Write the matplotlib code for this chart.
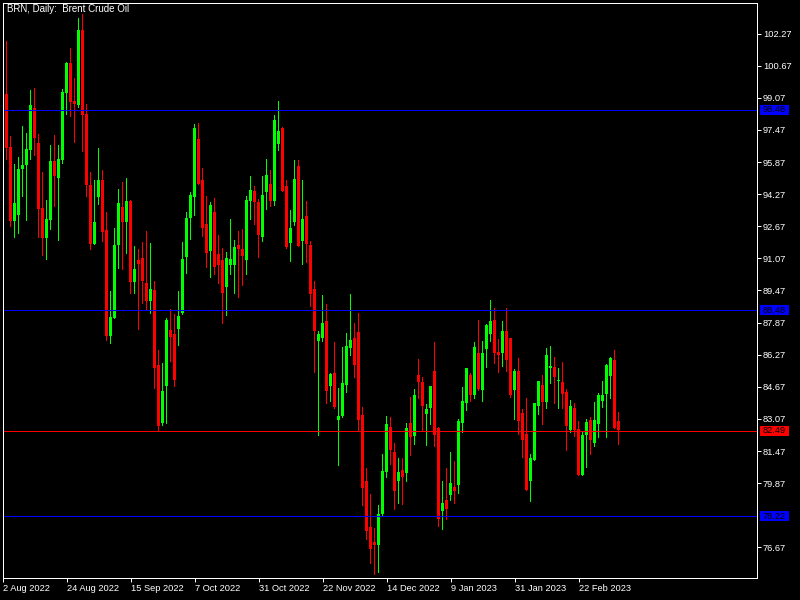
import matplotlib.pyplot as plt
import matplotlib.transforms as mtransforms
from matplotlib.patches import Rectangle
import numpy as np

# Brent daily candles, 2 Aug 2022 .. early Mar 2023
opens = [99.30, 99.26, 96.62, 92.95, 93.25, 95.53, 95.74, 96.49, 98.57, 96.82,
         93.58, 92.10, 93.00, 95.92, 95.09, 95.99, 99.33, 100.81, 98.92, 98.73,
         102.45, 98.27, 94.74, 91.80, 94.14, 94.98, 92.50, 87.22, 88.11, 91.75,
         93.63, 92.90, 93.93, 89.91, 90.99, 91.09, 89.84, 88.96, 89.49, 85.75,
         82.85, 84.72, 87.50, 87.30, 87.56, 88.33, 91.15, 93.10, 94.14, 97.02,
         94.98, 92.78, 91.45, 93.38, 91.29, 90.99, 89.66, 90.75, 90.75, 91.74,
         91.54, 91.00, 93.95, 94.43, 93.88, 92.15, 94.39, 94.78, 93.95, 96.79,
         97.57, 94.68, 91.85, 92.90, 95.67, 91.95, 93.18, 91.75, 89.54, 86.97,
         87.12, 87.95, 84.72, 85.36, 83.03, 83.23, 84.77, 86.62, 87.10, 87.40,
         83.26, 79.99, 77.69, 76.95, 76.80, 78.33, 80.44, 82.66, 81.42, 79.99,
         80.52, 80.39, 82.86, 82.23, 85.26, 84.91, 83.33, 83.63, 85.46, 82.63,
         78.49, 79.02, 79.27, 79.67, 79.77, 82.86, 83.86, 85.26, 84.26, 86.35,
         84.51, 86.55, 87.30, 88.00, 86.40, 86.35, 87.45, 87.10, 84.51, 85.46,
         83.36, 82.32, 79.97, 81.02, 83.71, 84.76, 83.91, 85.60, 85.65, 84.96,
         84.91, 84.41, 82.51, 83.61, 82.56, 80.27, 82.27, 83.01, 81.87, 82.81,
         83.96, 84.31, 85.21, 86.00, 82.96]
highs = [99.90, 101.91, 97.17, 95.77, 96.12, 97.67, 97.32, 99.46, 99.56, 97.27,
         95.38, 93.98, 96.72, 97.22, 96.72, 99.51, 100.86, 101.56, 100.06, 103.05,
         103.25, 98.77, 95.38, 94.98, 96.57, 95.48, 93.40, 89.44, 92.57, 94.53,
         94.88, 95.08, 93.98, 91.69, 91.55, 91.90, 92.43, 91.84, 89.94, 86.50,
         85.85, 88.10, 88.55, 88.30, 89.44, 91.89, 93.38, 94.38, 97.77, 97.82,
         95.58, 94.18, 93.88, 94.08, 92.25, 91.59, 91.39, 93.03, 91.99, 92.43,
         92.53, 94.18, 95.18, 94.68, 94.03, 95.18, 96.02, 95.48, 98.22, 98.92,
         97.62, 94.98, 93.48, 95.97, 95.97, 94.98, 93.93, 91.94, 89.94, 87.45,
         89.24, 88.80, 85.36, 86.90, 84.61, 86.64, 87.35, 89.29, 87.85, 88.35,
         83.66, 80.62, 79.32, 77.63, 78.78, 81.32, 83.21, 83.16, 81.87, 81.12,
         81.12, 82.86, 84.16, 84.56, 86.05, 85.16, 83.81, 84.71, 86.90, 82.68,
         79.97, 80.62, 81.42, 80.97, 83.06, 84.66, 85.60, 85.36, 86.90, 88.00,
         86.95, 87.80, 88.99, 88.60, 87.05, 87.95, 88.60, 87.10, 85.56, 86.10,
         83.56, 84.11, 81.32, 83.86, 84.96, 85.26, 86.60, 86.70, 86.15, 85.60,
         85.90, 84.56, 84.01, 83.86, 82.96, 82.46, 83.06, 83.16, 83.91, 84.36,
         84.96, 85.80, 86.15, 86.50, 83.41]
lows = [98.80, 96.04, 92.70, 92.15, 92.35, 94.19, 93.00, 96.04, 96.24, 92.15,
        91.25, 91.05, 92.55, 93.70, 92.00, 95.84, 98.28, 98.18, 96.89, 98.63,
        96.44, 94.19, 91.55, 91.80, 93.80, 91.95, 87.02, 86.87, 88.10, 90.60,
        90.56, 91.35, 89.36, 89.36, 87.53, 88.83, 88.53, 88.36, 84.62, 82.51,
        82.76, 82.85, 85.97, 84.72, 86.75, 88.28, 90.36, 92.05, 93.25, 94.79,
        92.20, 90.65, 90.16, 90.31, 89.86, 87.86, 88.26, 90.31, 89.36, 89.16,
        89.76, 90.31, 93.05, 92.80, 91.15, 91.95, 93.55, 93.70, 93.75, 96.49,
        94.44, 91.60, 90.95, 92.75, 91.70, 90.80, 90.90, 88.71, 85.42, 82.27,
        86.95, 83.88, 83.97, 83.63, 80.78, 83.18, 84.42, 86.27, 85.17, 82.53,
        78.79, 77.10, 75.90, 75.35, 75.45, 78.24, 80.19, 80.83, 78.59, 78.89,
        78.84, 79.99, 81.28, 81.83, 84.12, 82.53, 81.78, 82.83, 81.73, 77.74,
        77.59, 78.09, 79.02, 78.89, 79.37, 82.41, 83.51, 83.96, 84.11, 84.51,
        83.96, 85.65, 86.95, 85.85, 85.41, 85.70, 85.46, 84.16, 83.06, 82.31,
        81.17, 79.52, 78.98, 81.02, 83.31, 82.81, 83.61, 84.86, 83.86, 83.61,
        83.61, 81.52, 82.41, 82.22, 80.27, 80.27, 80.67, 81.32, 81.72, 82.16,
        83.66, 82.16, 84.11, 82.61, 81.82]
closes = [99.25, 96.59, 92.95, 93.83, 95.53, 95.72, 96.52, 98.72, 97.09, 93.55,
          92.10, 93.03, 95.92, 95.19, 96.02, 99.36, 100.81, 98.88, 98.78, 102.45,
          98.23, 94.74, 91.80, 92.90, 94.98, 92.40, 87.22, 88.15, 91.74, 93.83,
          92.90, 93.93, 89.91, 90.54, 90.81, 89.96, 88.96, 89.54, 85.62, 82.73,
          84.46, 88.00, 87.17, 85.02, 88.20, 91.04, 93.08, 94.23, 97.57, 94.79,
          92.60, 91.35, 93.73, 90.65, 90.75, 89.36, 91.09, 91.04, 91.64, 91.55,
          91.20, 93.98, 94.48, 93.90, 92.25, 94.23, 95.23, 93.95, 97.97, 97.42,
          94.44, 91.65, 92.58, 95.03, 91.70, 93.03, 91.80, 89.31, 87.46, 87.30,
          87.85, 84.47, 85.31, 83.68, 83.23, 84.86, 86.70, 87.00, 85.77, 83.03,
          79.64, 77.49, 76.60, 76.80, 78.33, 80.49, 82.81, 81.53, 79.49, 80.42,
          80.19, 82.63, 82.18, 84.26, 84.92, 83.73, 83.56, 84.71, 82.28, 78.09,
          78.88, 78.59, 79.87, 79.49, 82.96, 83.96, 85.60, 84.26, 86.65, 84.56,
          86.35, 87.75, 87.95, 86.35, 86.25, 87.45, 86.00, 84.26, 85.46, 82.96,
          82.02, 79.52, 81.12, 83.86, 84.96, 83.91, 86.25, 85.70, 85.16, 85.01,
          84.31, 82.71, 83.71, 82.51, 80.27, 82.27, 82.91, 82.02, 83.01, 84.26,
          84.26, 85.75, 86.10, 82.61, 82.51]

date_ticks = [0, 16, 32, 48, 64, 80, 96, 112, 128, 144]
date_labels = ['2 Aug 2022', '24 Aug 2022', '15 Sep 2022', '7 Oct 2022', '31 Oct 2022',
               '22 Nov 2022', '14 Dec 2022', '9 Jan 2023', '31 Jan 2023', '22 Feb 2023']
price_ticks = [102.27, 100.67, 99.07, 97.47, 95.87, 94.27, 92.67, 91.07, 89.47,
               87.87, 86.27, 84.67, 83.07, 81.47, 79.87, 76.67]
levels = [98.48, 88.48, 82.49, 78.22]
level_colors = ['#0000ff', '#0000ff', '#ff0000', '#0000ff']

plt.rcParams['font.family'] = ['Liberation Sans', 'DejaVu Sans']
PX = 0.72  # one pixel in points at 100 dpi
FS = 6.7

o = np.array(opens)
h = np.array(highs)
l = np.array(lows)
c = np.array(closes)
idx = np.arange(len(o))
cols = np.where(c >= o, '#00ff00', '#ff0000')

fig = plt.figure(figsize=(8, 6), dpi=100, facecolor='black')
ax = fig.add_axes([3 / 800, 22 / 600, 754 / 800, 575 / 600])
ax.set_facecolor('black')

# wicks shifted half a pixel so the snapped line sits in the body's middle column
ax.vlines(idx - 0.125, l, h, colors=cols, linewidth=PX, antialiased=False)
ax.bar(idx, np.maximum(np.abs(c - o), 0.05), bottom=np.minimum(o, c), width=0.75,
       color=cols, linewidth=0)

trans = mtransforms.blended_transform_factory(ax.transAxes, ax.transData)
for lev, col in zip(levels, level_colors):
    ax.axhline(lev, color=col, linewidth=PX, antialiased=False)
    ax.add_patch(Rectangle((1.004, lev - 0.25), 0.0385, 0.5, transform=trans,
                           facecolor=col, edgecolor='none', clip_on=False))
    ax.text(1.0073, lev, f'{lev:.2f}', transform=trans, va='center', ha='left',
            fontsize=FS, color='black', clip_on=False)

ax.set_xlim(0.125, 188.625)
ax.set_ylim(75.14, 103.80)

for s in ax.spines.values():
    s.set_color('white')
    s.set_linewidth(PX)

ax.yaxis.tick_right()
ax.set_yticks(price_ticks)
ax.set_yticklabels([f'{p:.2f}' for p in price_ticks])
ax.set_xticks(date_ticks)
ax.set_xticklabels(date_labels, ha='left')
ax.tick_params(axis='both', colors='white', labelcolor='white', labelsize=FS,
               length=3, width=PX, direction='out', pad=1.2)

fig.text(7 / 800, 1 - 9 / 600, 'BRN, Daily:  Brent Crude Oil', color='white',
         fontsize=FS + 0.3, ha='left', va='center')

fig.savefig('out.png', dpi=100, facecolor='black')
